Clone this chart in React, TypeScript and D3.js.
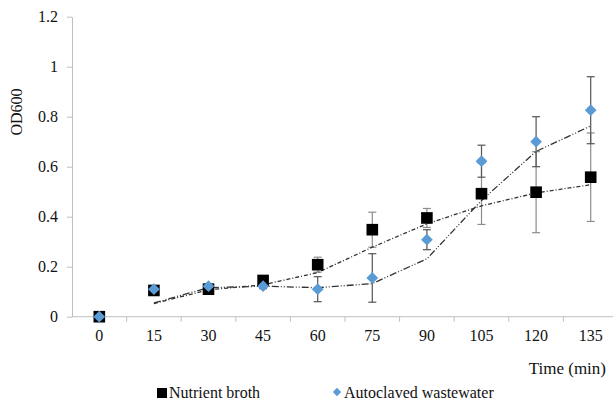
// Growth curve (OD600 vs time) drawn with D3

import React, { useEffect, useRef } from 'react'
import * as d3 from 'd3'

const categories = ['0', '15', '30', '45', '60', '75', '90', '105', '120', '135']
const yTicks = [0, 0.2, 0.4, 0.6, 0.8, 1, 1.2]

const nutrientBroth = [0, 0.105, 0.11, 0.145, 0.208, 0.348, 0.395, 0.492, 0.498, 0.558]
const nutrientBrothErr = [0, 0.005, 0.005, 0.01, 0.03, 0.07, 0.038, 0.123, 0.162, 0.177]
const wastewater = [0, 0.11, 0.122, 0.122, 0.11, 0.155, 0.308, 0.622, 0.7, 0.826]
const wastewaterErr = [0, 0.01, 0.01, 0.01, 0.05, 0.097, 0.04, 0.064, 0.1, 0.134]

const W = 613
const H = 401
const FONT = '"Liberation Serif", "Times New Roman", serif'

const create = (el: SVGSVGElement) => {
  const svg = d3.select(el)
  svg.selectAll('*').remove()

  const x = d3.scaleBand<string>().domain(categories).range([72, 618])
  const y = d3.scaleLinear().domain([0, 1.2]).range([316.7, 16.7])
  const cx = (i: number) => (x(categories[i]) as number) + x.bandwidth() / 2

  // Y axis
  const yAxis = svg
    .append('g')
    .attr('transform', 'translate(72, 0)')
    .call(
      d3
        .axisLeft(y)
        .tickValues(yTicks)
        .tickSize(5)
        .tickSizeOuter(0)
        .tickPadding(9)
        .tickFormat(d => String(d))
    )
  yAxis.selectAll('line').style('stroke', '#bfbfbf')
  yAxis.selectAll('path').style('stroke', '#bfbfbf')
  yAxis
    .selectAll('text')
    .style('fill', '#111')
    .style('font-family', FONT)
    .style('font-size', '16px')

  // X axis: ticks at category boundaries, labels at centres
  const xg = svg.append('g')
  xg.append('line')
    .attr('x1', 72)
    .attr('x2', 618)
    .attr('y1', y(0))
    .attr('y2', y(0))
    .style('stroke', '#bfbfbf')
  xg.selectAll('line.tick')
    .data(categories)
    .enter()
    .append('line')
    .attr('class', 'tick')
    .attr('x1', d => (x(d) as number) + x.bandwidth())
    .attr('x2', d => (x(d) as number) + x.bandwidth())
    .attr('y1', y(0))
    .attr('y2', y(0) + 5)
    .style('stroke', '#bfbfbf')
  xg.selectAll('text')
    .data(categories)
    .enter()
    .append('text')
    .attr('x', (d, i) => cx(i))
    .attr('y', 341)
    .attr('text-anchor', 'middle')
    .style('font-family', FONT)
    .style('font-size', '16px')
    .style('fill', '#111')
    .text(d => d)

  // Error bars
  const errorBars = (vals: number[], errs: number[], colour: string) => {
    const g = svg.append('g').style('stroke', colour).style('stroke-width', 1.2)
    vals.forEach((v, i) => {
      if (errs[i] <= 0.006) return
      const x0 = cx(i)
      g.append('line').attr('x1', x0).attr('x2', x0).attr('y1', y(v - errs[i])).attr('y2', y(v + errs[i]))
      ;[v - errs[i], v + errs[i]].forEach(e => {
        g.append('line').attr('x1', x0 - 4).attr('x2', x0 + 4).attr('y1', y(e)).attr('y2', y(e))
      })
    })
  }
  errorBars(nutrientBroth, nutrientBrothErr, '#8c8c8c')
  errorBars(wastewater, wastewaterErr, '#555')

  // 2-period moving average trendlines
  const movingAvg = (vals: number[]) =>
    vals.slice(1).map((v, i) => ({ i: i + 1, v: (v + vals[i]) / 2 }))
  const line = d3
    .line<{ i: number; v: number }>()
    .x(d => cx(d.i))
    .y(d => y(d.v))

  svg
    .append('path')
    .attr('d', line(movingAvg(nutrientBroth)))
    .style('fill', 'none')
    .style('stroke', '#333')
    .style('stroke-width', 1.3)
    .style('stroke-dasharray', '4,2,1,2')
  svg
    .append('path')
    .attr('d', line(movingAvg(wastewater)))
    .style('fill', 'none')
    .style('stroke', '#333')
    .style('stroke-width', 1.3)
    .style('stroke-dasharray', '7,2,1,2,1,2')

  // Markers
  const square = d3.symbol().type(d3.symbolSquare).size(135)
  const diamond = d3.symbol().type(d3.symbolDiamond2).size(88)
  svg
    .append('g')
    .selectAll('path')
    .data(nutrientBroth)
    .enter()
    .append('path')
    .attr('d', square())
    .attr('transform', (d, i) => `translate(${cx(i)}, ${y(d)})`)
    .style('fill', '#000')
  svg
    .append('g')
    .selectAll('path')
    .data(wastewater)
    .enter()
    .append('path')
    .attr('d', diamond())
    .attr('transform', (d, i) => `translate(${cx(i)}, ${y(d)})`)
    .style('fill', '#5b9bd5')

  // Axis titles
  svg
    .append('text')
    .attr('transform', 'translate(22, 112) rotate(-90)')
    .attr('text-anchor', 'middle')
    .style('font-family', FONT)
    .style('font-size', '16px')
    .style('fill', '#111')
    .text('OD600')
  svg
    .append('text')
    .attr('x', 606)
    .attr('y', 374)
    .attr('text-anchor', 'end')
    .style('font-family', FONT)
    .style('font-size', '17px')
    .style('fill', '#111')
    .text('Time (min)')

  // Legend
  const legend = svg.append('g').style('font-family', FONT).style('font-size', '16px')
  legend
    .append('path')
    .attr('d', d3.symbol().type(d3.symbolSquare).size(100)())
    .attr('transform', 'translate(162, 393)')
    .style('fill', '#000')
  legend.append('text').attr('x', 169).attr('y', 398).style('fill', '#111').text('Nutrient broth')
  legend
    .append('path')
    .attr('d', d3.symbol().type(d3.symbolDiamond2).size(45)())
    .attr('transform', 'translate(337, 392)')
    .style('fill', '#5b9bd5')
  legend.append('text').attr('x', 344).attr('y', 398).style('fill', '#111').text('Autoclaved wastewater')
}

export default function App() {
  const ref = useRef<SVGSVGElement>(null)
  useEffect(() => {
    if (ref.current) create(ref.current)
  }, [])
  return (
    <svg
      ref={ref}
      width={W}
      height={H}
      style={{ position: 'absolute', left: 0, top: 0, background: '#fff', overflow: 'hidden' }}
    />
  )
}
